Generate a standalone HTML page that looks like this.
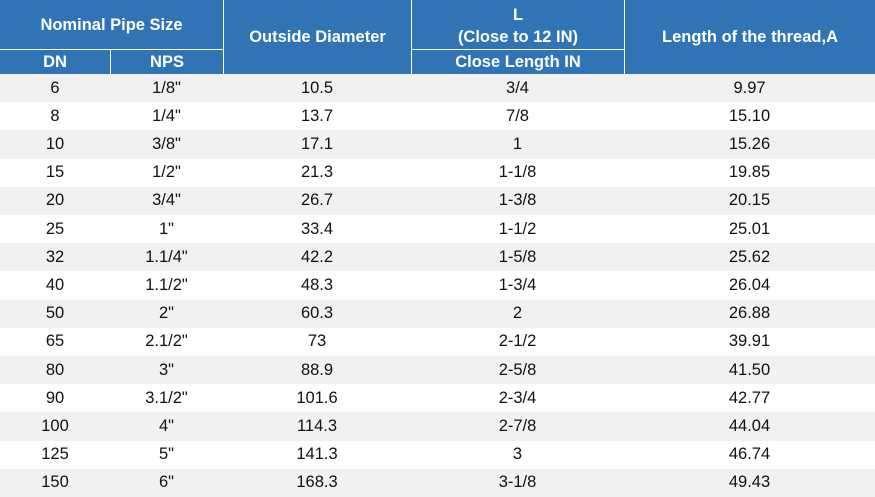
<!DOCTYPE html>
<html><head><meta charset="utf-8"><style>
body{margin:0;width:875px;height:497px;overflow:hidden;background:#fff;font-family:"Liberation Sans",Arial,sans-serif}
.c{position:absolute;display:flex;align-items:center;justify-content:center;box-sizing:border-box;text-align:center}
.h{background:#3174b5;color:#fff;font-weight:bold;font-size:16.5px;line-height:22px}
.d{font-size:16.5px;color:#111}
.bl{border-left:1px solid #fff}
.bt{border-top:1px solid #fff}
</style></head><body>
<div id="t">
<div class="c h" style="left:0;top:0;width:223px;height:49px">Nominal Pipe Size</div>
<div class="c h bt" style="left:0;top:49px;width:110px;height:25px">DN</div>
<div class="c h bt bl" style="left:110px;top:49px;width:113px;height:25px">NPS</div>
<div class="c h bl" style="left:223px;top:0;width:188px;height:74px">Outside Diameter</div>
<div class="c h bl" style="left:411px;top:0;width:213px;height:49px;padding-top:2px">L<br>(Close to 12 IN)</div>
<div class="c h bt bl" style="left:411px;top:49px;width:213px;height:25px">Close Length IN</div>
<div class="c h bl" style="left:624px;top:0;width:251px;height:74px">Length of the thread,A</div>
</div>
<script>
const dn=["6","8","10","15","20","25","32","40","50","65","80","90","100","125","150"];
const nps=['1/8"','1/4"','3/8"','1/2"','3/4"','1"','1.1/4"','1.1/2"','2"','2.1/2"','3"','3.1/2"','4"','5"','6"'];
const od=["10.5","13.7","17.1","21.3","26.7","33.4","42.2","48.3","60.3","73","88.9","101.6","114.3","141.3","168.3"];
const len=["3/4","7/8","1","1-1/8","1-3/8","1-1/2","1-5/8","1-3/4","2","2-1/2","2-5/8","2-3/4","2-7/8","3","3-1/8"];
const thr=["9.97","15.10","15.26","19.85","20.15","25.01","25.62","26.04","26.88","39.91","41.50","42.77","44.04","46.74","49.43"];
const cols=[[0,110,dn,'dn'],[110,113,nps,'nps'],[223,188,od,'outside-diameter'],[411,213,len,'close-length'],[624,251,thr,'thread-length']];
const t=document.getElementById('t');
const top0=74,rh=(497-74)/15;
for(let i=0;i<dn.length;i++){
  const row=document.createElement('div');
  
  
  row.style.cssText=`position:absolute;left:0;width:875px;top:${top0+i*rh}px;height:${rh}px;background:${i%2===0?'#f1f1f1':'#fff'}`;
  t.appendChild(row);
  cols.forEach(c=>{
    const d=document.createElement('div');
    d.className='c d';
    
    
    d.style.cssText=`left:${c[0]}px;width:${c[1]}px;top:0;height:${rh}px`;
    d.textContent=c[2][i];
    row.appendChild(d);
  });
}
</script>
</body></html>
